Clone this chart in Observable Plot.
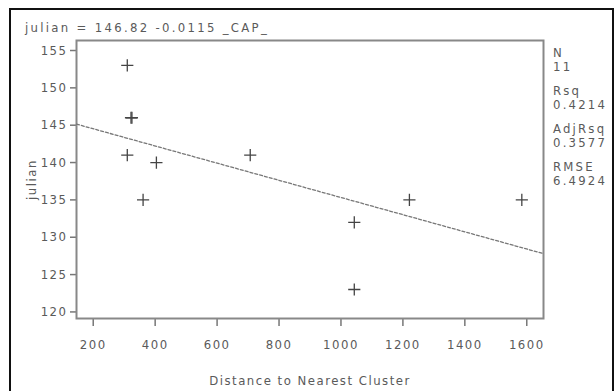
<!DOCTYPE html>
<html>
<head>
<meta charset="utf-8">
<script src="https://cdn.jsdelivr.net/npm/d3@7"></script>
<script src="https://cdn.jsdelivr.net/npm/@observablehq/plot@0.6"></script>
<style>
  html, body { margin: 0; padding: 0; background: #fff; }
  #wrap { position: relative; width: 616px; height: 391px; overflow: hidden; }
  #border { position: absolute; left: 9px; top: 8px; width: 605px; height: 400px; border: 2px solid #111; box-sizing: border-box; }
  .sas { font-family: "DejaVu Sans Condensed", "DejaVu Sans", sans-serif; font-stretch: condensed; color: #5a5a5a; font-size: 13px; }
  #title { position: absolute; left: 25px; top: 20px; white-space: pre; letter-spacing: 2.3px; }
  #stats { position: absolute; left: 553px; top: 46px; line-height: 14px; letter-spacing: 2.2px; }
  #stats div.gap { height: 10px; }
  #chart { position: absolute; left: 0; top: 0; }
</style>
</head>
<body>
<div id="wrap">
  <div id="border"></div>
  <div id="chart"></div>
  <div id="title" class="sas"></div>
  <div id="stats" class="sas"></div>
</div>
<script>
// Data
const distance = [310, 322, 325, 310, 404, 361, 707, 1043, 1043, 1221, 1584];
const julian   = [153, 146, 146, 141, 140, 135, 141, 132, 123, 135, 135];
const regIntercept = 146.82;
const regSlope = -0.0115;
const xTicks = [200, 400, 600, 800, 1000, 1200, 1400, 1600];
const yTicks = [120, 125, 130, 135, 140, 145, 150, 155];
const statLabels = ["N", "Rsq", "AdjRsq", "RMSE"];
const statValues = ["11", "0.4214", "0.3577", "6.4924"];
const titleText = "julian = 146.82 -0.0115 _CAP_";
const xLabel = "Distance to Nearest Cluster";
const yLabel = "julian";

const xDomain = [146, 1654];
const yDomain = [119.12, 156.34];

const points = distance.map((d, i) => ({x: d, y: julian[i]}));
const regLine = xDomain.map(x => ({x, y: regIntercept + regSlope * x}));

const font = "DejaVu Sans Condensed, DejaVu Sans, sans-serif";
const chart = Plot.plot({
  width: 616,
  height: 391,
  marginLeft: 76,
  marginRight: 73,
  marginTop: 40,
  marginBottom: 73,
  style: {fontFamily: font, fontSize: "13px", color: "#5a5a5a", background: "transparent", letterSpacing: "1.5px", fontStretch: "condensed"},
  x: {domain: xDomain, ticks: xTicks},
  y: {domain: yDomain, ticks: yTicks},
  marks: [
    Plot.axisX({ticks: xTicks, tickFormat: d => String(d), tickSize: 8, tickPadding: 13, stroke: "#777", strokeWidth: 1.5,
      label: xLabel, labelAnchor: "center", labelArrow: false, labelOffset: 66, fontSize: 13}),
    Plot.axisY({ticks: yTicks, tickFormat: d => String(d), tickSize: 6, tickPadding: 3, stroke: "#777", strokeWidth: 1.5,
      label: yLabel, labelAnchor: "center", labelArrow: false, labelOffset: 50, fontSize: 13}),
    Plot.frame({stroke: "#888", strokeWidth: 2}),
    Plot.line(regLine, {x: "x", y: "y", stroke: "#777", strokeWidth: 1.3, strokeDasharray: "3,2"}),
    Plot.dot(points, {x: "x", y: "y", symbol: "plus", r: 4, stroke: "#444", strokeWidth: 1.3})
  ]
});
document.getElementById("chart").appendChild(chart);

document.getElementById("title").textContent = titleText;
const stats = document.getElementById("stats");
statLabels.forEach((l, i) => {
  if (i > 0) { const g = document.createElement("div"); g.className = "gap"; stats.appendChild(g); }
  const a = document.createElement("div"); a.textContent = l; stats.appendChild(a);
  const b = document.createElement("div"); b.textContent = statValues[i]; stats.appendChild(b);
});
</script>
</body>
</html>
